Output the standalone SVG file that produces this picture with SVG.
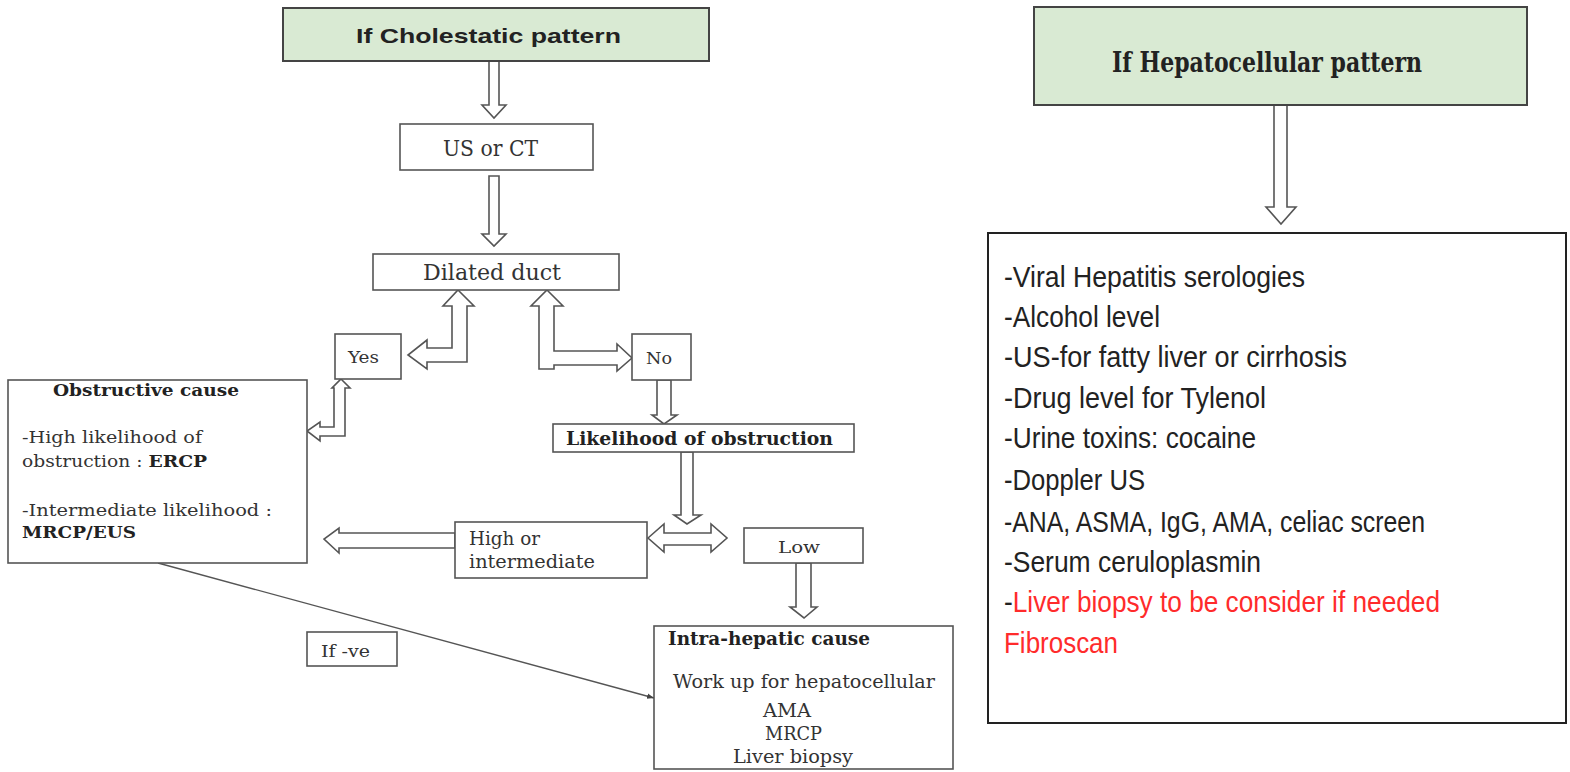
<svg xmlns="http://www.w3.org/2000/svg" width="1570" height="772" viewBox="0 0 1570 772">
<style>
.box{fill:#fff;stroke:#555;stroke-width:1.6}
.green{fill:#d9ead3;stroke:#444;stroke-width:2}
.blk{fill:#fff;stroke:#222;stroke-width:2}
.arr{fill:#fff;stroke:#555;stroke-width:1.6;stroke-linejoin:miter}
.ln{stroke:#555;stroke-width:1.4;fill:none}
.s{font-family:"DejaVu Serif","Liberation Serif",serif;fill:#333}
.b{font-weight:bold;fill:#222}
.t{font-family:"Liberation Sans",Arial,sans-serif;font-weight:bold;fill:#222}
.n{font-family:"Liberation Sans Narrow","Liberation Sans",Arial,sans-serif;fill:#222;font-size:29px}
.red{fill:#ff2b2b}
</style>
<defs>
<marker id="ah" viewBox="0 0 10 10" refX="10" refY="5" markerWidth="7" markerHeight="7" orient="auto" markerUnits="userSpaceOnUse">
<path d="M0,1 L10,5 L0,9 z" fill="#444"/>
</marker>
</defs>
<rect width="1570" height="772" fill="#fff"/>

<g id="connectors">
<polygon class="arr" points="489,61 499,61 499,105 506,105 494,118 482,105 489,105"/>
<polygon class="arr" points="489,176 499,176 499,234 506,234 494,246 482,234 489,234"/>
<polygon class="arr" points="458,290 474,306 467,306 467,362 427,362 427,369 408,355 427,340 427,348 452,348 452,306 443,306"/>
<polygon class="arr" points="547,290 563,306 554,306 554,351 617,351 617,344 632,358 617,371 617,365 554,365 554,369 539,369 539,306 531,306"/>
<polygon class="arr" points="341,379 350,388 345,388 345,436 320,436 320,441 307,431 320,422 320,427 334,427 334,388 332,388"/>
<polygon class="arr" points="657,380 671,380 671,415 677,415 664,424 652,415 657,415"/>
<polygon class="arr" points="681,452 693,452 693,515 701,515 687,524 674,515 681,515"/>
<polygon class="arr" points="455,533 339,533 339,528 324,539 339,553 339,548 455,548"/>
<polygon class="arr" points="648,538 664,524 664,533 711,533 711,524 727,538 711,552 711,545 664,545 664,552"/>
<polygon class="arr" points="796,563 811,563 811,607 817,607 804,618 790,607 796,607"/>
<polygon class="arr" points="1274,105 1287,105 1287,207 1296,207 1281,224 1266,207 1274,207"/>
<line class="ln" x1="158" y1="563" x2="654" y2="698" marker-end="url(#ah)"/>
</g>

<g id="cholestatic">
<rect class="green" x="283" y="8" width="426" height="53"/>
<text class="t" x="356" y="43" font-size="21" textLength="265" lengthAdjust="spacingAndGlyphs">If Cholestatic pattern</text>
</g>

<g id="us-ct">
<rect class="box" x="400" y="124" width="193" height="46"/>
<text class="s" x="443" y="156" font-size="23" textLength="95" lengthAdjust="spacingAndGlyphs">US or CT</text>
</g>

<g id="dilated">
<rect class="box" x="373" y="254" width="246" height="36"/>
<text class="s" x="423" y="280" font-size="23" textLength="138" lengthAdjust="spacingAndGlyphs">Dilated duct</text>
</g>

<g id="yes">
<rect class="box" x="335" y="334" width="66" height="45"/>
<text class="s" x="348" y="363" font-size="16" textLength="31" lengthAdjust="spacingAndGlyphs">Yes</text>
</g>

<g id="no">
<rect class="box" x="632" y="334" width="59" height="46"/>
<text class="s" x="646" y="364" font-size="17" textLength="26" lengthAdjust="spacingAndGlyphs">No</text>
</g>

<g id="obstructive">
<rect class="box" x="8" y="380" width="299" height="183"/>
<text class="s b" x="53" y="396" font-size="17" textLength="186" lengthAdjust="spacingAndGlyphs">Obstructive cause</text>
<text class="s" x="22" y="443" font-size="17" textLength="180" lengthAdjust="spacingAndGlyphs">-High likelihood of</text>
<text class="s" x="22" y="467" font-size="17" textLength="185" lengthAdjust="spacingAndGlyphs">obstruction : <tspan class="b">ERCP</tspan></text>
<text class="s" x="22" y="516" font-size="17" textLength="250" lengthAdjust="spacingAndGlyphs">-Intermediate likelihood :</text>
<text class="s b" x="22" y="538" font-size="17" textLength="114" lengthAdjust="spacingAndGlyphs">MRCP/EUS</text>
</g>

<g id="likelihood">
<rect class="box" x="553" y="424" width="301" height="28"/>
<text class="s b" x="566" y="445" font-size="18" textLength="267" lengthAdjust="spacingAndGlyphs">Likelihood of obstruction</text>
</g>

<g id="high">
<rect class="box" x="455" y="522" width="192" height="56"/>
<text class="s" x="469" y="545" font-size="18" textLength="71" lengthAdjust="spacingAndGlyphs">High or</text>
<text class="s" x="469" y="568" font-size="18" textLength="126" lengthAdjust="spacingAndGlyphs">intermediate</text>
</g>

<g id="low">
<rect class="box" x="744" y="528" width="119" height="35"/>
<text class="s" x="778" y="553" font-size="17" textLength="42" lengthAdjust="spacingAndGlyphs">Low</text>
</g>

<g id="ifve">
<rect class="box" x="307" y="632" width="90" height="34"/>
<text class="s" x="321" y="657" font-size="17" textLength="49" lengthAdjust="spacingAndGlyphs">If -ve</text>
</g>

<g id="intrahepatic">
<rect class="box" x="654" y="626" width="299" height="143"/>
<text class="s b" x="668" y="645" font-size="18" textLength="202" lengthAdjust="spacingAndGlyphs">Intra-hepatic cause</text>
<text class="s" x="673" y="688" font-size="18" textLength="262" lengthAdjust="spacingAndGlyphs">Work up for hepatocellular</text>
<text class="s" x="763" y="717" font-size="18" textLength="48" lengthAdjust="spacingAndGlyphs">AMA</text>
<text class="s" x="765" y="740" font-size="18" textLength="57" lengthAdjust="spacingAndGlyphs">MRCP</text>
<text class="s" x="733" y="763" font-size="18" textLength="120" lengthAdjust="spacingAndGlyphs">Liver biopsy</text>
</g>

<g id="hepatocellular">
<rect class="green" x="1034" y="7" width="493" height="98"/>
<text class="s b" x="1112" y="72" font-size="28" fill="#111" textLength="310" lengthAdjust="spacingAndGlyphs">If Hepatocellular pattern</text>
</g>

<g id="hep-list">
<rect class="blk" x="988" y="233" width="578" height="490"/>
<text class="n" x="1004" y="287" textLength="301" lengthAdjust="spacingAndGlyphs">-Viral Hepatitis serologies</text>
<text class="n" x="1004" y="327" textLength="156" lengthAdjust="spacingAndGlyphs">-Alcohol level</text>
<text class="n" x="1004" y="367" textLength="343" lengthAdjust="spacingAndGlyphs">-US-for fatty liver or cirrhosis</text>
<text class="n" x="1004" y="408" textLength="262" lengthAdjust="spacingAndGlyphs">-Drug level for Tylenol</text>
<text class="n" x="1004" y="448" textLength="252" lengthAdjust="spacingAndGlyphs">-Urine toxins: cocaine</text>
<text class="n" x="1004" y="490" textLength="141" lengthAdjust="spacingAndGlyphs">-Doppler US</text>
<text class="n" x="1004" y="532" textLength="421" lengthAdjust="spacingAndGlyphs">-ANA, ASMA, IgG, AMA, celiac screen</text>
<text class="n" x="1004" y="572" textLength="257" lengthAdjust="spacingAndGlyphs">-Serum ceruloplasmin</text>
<text class="n" x="1004" y="612" textLength="436" lengthAdjust="spacingAndGlyphs">-<tspan class="red">Liver biopsy to be consider if needed</tspan></text>
<text class="n red" x="1004" y="653" textLength="114" lengthAdjust="spacingAndGlyphs">Fibroscan</text>
</g>
</svg>
